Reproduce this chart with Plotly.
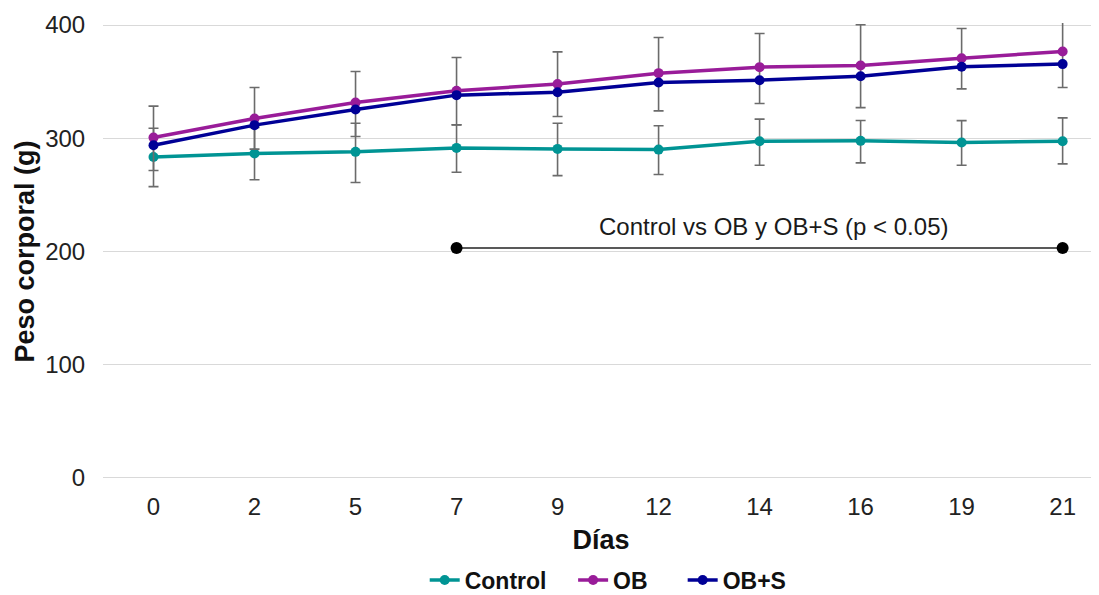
import plotly.graph_objects as go

dias = ["0", "2", "5", "7", "9", "12", "14", "16", "19", "21"]

control = [283.5, 286.5, 288.0, 291.5, 290.6, 290.0, 297.4, 297.7, 296.2, 297.4]
control_err_up = [25.4, 23.0, 25.3, 20.3, 22.7, 21.0, 19.5, 18.0, 19.4, 20.6]
control_err_down = [26.2, 23.2, 27.1, 21.5, 23.6, 22.0, 21.2, 19.4, 20.0, 20.0]

ob = [300.6, 317.4, 331.5, 341.9, 348.0, 357.5, 362.8, 364.2, 370.7, 376.6]
ob_err_up = [27.8, 27.4, 27.5, 29.4, 28.3, 31.5, 29.7, 36.0, 26.2, 32.0]
ob_err_down = [29.1, 27.0, 30.0, 30.0, 28.8, 33.3, 32.1, 37.1, 27.1, 31.8]

ob_s = [293.9, 311.6, 325.4, 338.1, 340.7, 349.2, 351.3, 354.8, 363.1, 365.5]

sig_x = ["7", "21"]
sig_y = [203, 203]
sig_label = "Control vs OB y OB+S (p < 0.05)"

y_ticks = [0, 100, 200, 300, 400]

FONT = "Liberation Sans, Arial, sans-serif"
ERR_COLOR = "#6b6b6b"

# page body has an 8px default margin, the figure is sized/placed to compensate
W, H = 1091, 600
TOP = 15
PLOT_H = 457

fig = go.Figure()

def add_series(name, y, color, legend_id, up=None, down=None):
    err = None
    if up is not None:
        err = dict(type="data", symmetric=False, array=up, arrayminus=down,
                   color=ERR_COLOR, thickness=1.6, width=5)
    fig.add_trace(go.Scatter(
        x=dias, y=y, name=name, mode="lines+markers",
        line=dict(color=color, width=3.5),
        marker=dict(color=color, size=10),
        error_y=err, legend=legend_id,
    ))

add_series("Control", control, "#009494", "legend", control_err_up, control_err_down)
add_series("OB", ob, "#991c99", "legend2", ob_err_up, ob_err_down)
add_series("OB+S", ob_s, "#000096", "legend3")

fig.add_trace(go.Scatter(
    x=sig_x, y=sig_y, mode="lines+markers", showlegend=False,
    line=dict(color="#222222", width=1.5),
    marker=dict(color="#000000", size=12),
    hoverinfo="skip",
))

fig.add_annotation(
    x=6.14, y=222, xref="x", yref="y", text=sig_label, showarrow=False,
    font=dict(family=FONT, size=24, color="#1a1a1a"),
)

fig.add_annotation(
    x=-0.0793, y=0.5, xref="paper", yref="paper", text="<b>Peso corporal (g)</b>",
    textangle=-90, showarrow=False, xanchor="center", yanchor="middle",
    font=dict(family=FONT, size=27, color="#111111"),
)

leg_common = dict(
    orientation="h", yref="container", yanchor="middle", y=(H - 572) / H,
    xanchor="left",
    font=dict(family=FONT, size=23, color="#111111", weight="bold"),
    bgcolor="rgba(0,0,0,0)", borderwidth=0,
)

fig.update_layout(
    width=W, height=H,
    margin=dict(l=95, r=0, t=TOP, b=H - TOP - PLOT_H),
    paper_bgcolor="white", plot_bgcolor="white",
    font=dict(family=FONT, color="#222222"),
    showlegend=True,
    legend=dict(x=0.323, **leg_common),
    legend2=dict(x=0.472, **leg_common),
    legend3=dict(x=0.582, **leg_common),
    xaxis=dict(
        type="category", range=[-0.5, 9.36], automargin=False,
        showgrid=False, showline=False, zeroline=False,
        ticks="outside", ticklen=5, tickcolor="rgba(0,0,0,0)",
        tickfont=dict(family=FONT, size=24, color="#222222"),
        title=dict(text="<b>Días</b>", font=dict(family=FONT, size=27, color="#111111"), standoff=11),
    ),
    yaxis=dict(
        range=[-1.8, 401.8], tickvals=y_ticks, automargin=False,
        showgrid=True, gridcolor="#d9d9d9", gridwidth=1,
        zeroline=False, showline=False,
        ticks="outside", ticklen=12, tickcolor="rgba(0,0,0,0)",
        tickfont=dict(family=FONT, size=24, color="#222222"),
    ),
)

fig.write_html("out.html")
